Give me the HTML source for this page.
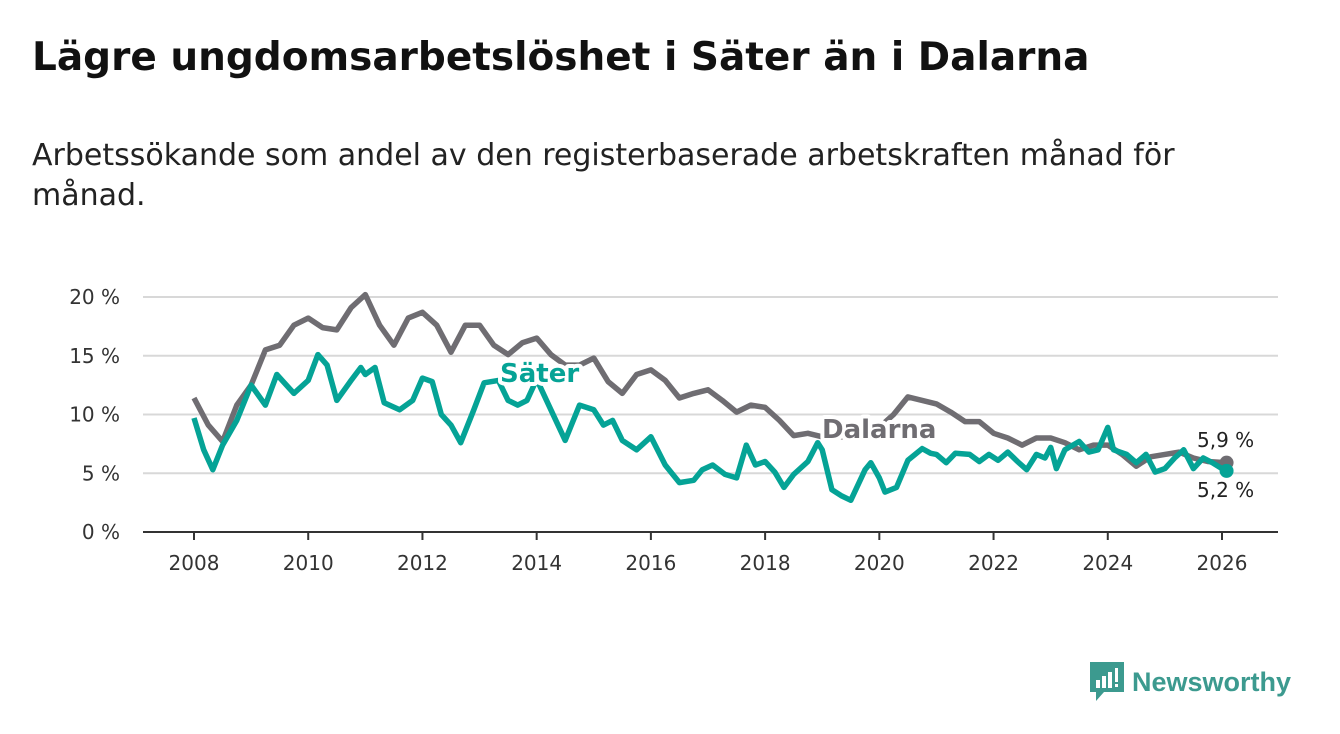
<!DOCTYPE html>
<html><head><meta charset="utf-8">
<style>
body{margin:0;width:1340px;height:734px;background:#fff;font-family:"DejaVu Sans","Liberation Sans",sans-serif;overflow:hidden;position:relative}
h1{position:absolute;left:32px;top:35px;margin:0;font-size:39px;font-weight:bold;color:#111;white-space:nowrap}
.sub{position:absolute;left:32px;top:136px;margin:0;font-size:30px;line-height:40px;color:#222;width:1300px;white-space:nowrap}
svg{position:absolute;left:0;top:0}
</style></head><body>
<h1>Lägre ungdomsarbetslöshet i Säter än i Dalarna</h1>
<p class="sub">Arbetssökande som andel av den registerbaserade arbetskraften månad för<br>månad.</p>
<svg width="1340" height="734" id="chart"></svg>
<script>
const yTicks=[0,5,10,15,20];
const yTickLabels=["0 %","5 %","10 %","15 %","20 %"];
const xTicks=[2008,2010,2012,2014,2016,2018,2020,2022,2024,2026];
const dalT=[2008,2008.25,2008.5,2008.75,2009,2009.25,2009.5,2009.75,2010,2010.25,2010.5,2010.75,2011,2011.25,2011.5,2011.75,2012,2012.25,2012.5,2012.75,2013,2013.25,2013.5,2013.75,2014,2014.25,2014.5,2014.75,2015,2015.25,2015.5,2015.75,2016,2016.25,2016.5,2016.75,2017,2017.25,2017.5,2017.75,2018,2018.25,2018.5,2018.75,2019,2019.5,2020,2020.25,2020.5,2020.75,2021,2021.25,2021.5,2021.75,2022,2022.25,2022.5,2022.75,2023,2023.25,2023.5,2023.75,2024,2024.25,2024.5,2024.75,2025,2025.25,2025.5,2025.75,2026.08];
const dalV=[11.4,9.1,7.7,10.8,12.5,15.5,15.9,17.6,18.2,17.4,17.2,19.1,20.2,17.6,15.9,18.2,18.7,17.6,15.3,17.6,17.6,15.9,15.1,16.1,16.5,15.1,14.2,14.2,14.8,12.8,11.8,13.4,13.8,12.9,11.4,11.8,12.1,11.2,10.2,10.8,10.6,9.5,8.2,8.4,8.1,8.1,8.9,10.0,11.5,11.2,10.9,10.2,9.4,9.4,8.4,8.0,7.4,8.0,8.0,7.6,7.0,7.4,7.4,6.6,5.6,6.4,6.6,6.8,6.3,6.0,5.9];
const satT=[2008,2008.17,2008.33,2008.5,2008.75,2009,2009.25,2009.45,2009.75,2010,2010.17,2010.33,2010.5,2010.75,2010.92,2011,2011.17,2011.33,2011.6,2011.83,2012,2012.17,2012.33,2012.5,2012.67,2012.9,2013.08,2013.33,2013.5,2013.67,2013.83,2014,2014.25,2014.5,2014.75,2015,2015.17,2015.33,2015.5,2015.75,2016,2016.25,2016.5,2016.75,2016.9,2017.08,2017.3,2017.5,2017.67,2017.83,2018,2018.17,2018.33,2018.5,2018.75,2018.92,2019,2019.17,2019.33,2019.5,2019.75,2019.85,2020,2020.1,2020.3,2020.5,2020.75,2020.9,2021,2021.17,2021.33,2021.58,2021.75,2021.92,2022.08,2022.25,2022.42,2022.58,2022.75,2022.9,2023,2023.1,2023.25,2023.5,2023.67,2023.83,2024,2024.1,2024.33,2024.5,2024.67,2024.83,2025,2025.17,2025.33,2025.5,2025.67,2025.83,2026,2026.08];
const satV=[9.7,7.0,5.3,7.4,9.5,12.5,10.8,13.4,11.8,12.9,15.1,14.2,11.2,12.9,14.0,13.4,14.0,11.0,10.4,11.2,13.1,12.8,10.0,9.1,7.6,10.4,12.7,12.9,11.2,10.8,11.2,13.0,10.4,7.8,10.8,10.4,9.1,9.5,7.8,7.0,8.1,5.7,4.2,4.4,5.3,5.7,4.9,4.6,7.4,5.7,6.0,5.1,3.8,4.9,6.0,7.6,7.0,3.6,3.1,2.7,5.3,5.9,4.6,3.4,3.8,6.1,7.1,6.7,6.6,5.9,6.7,6.6,6.0,6.6,6.1,6.8,6.0,5.3,6.6,6.3,7.2,5.4,7.0,7.7,6.8,7.0,8.9,7.0,6.6,5.9,6.6,5.1,5.4,6.3,7.0,5.4,6.3,5.9,5.4,5.2];
const NS="http://www.w3.org/2000/svg";
const svg=document.getElementById('chart');
const X=t=>194+(t-2008)*(1028/18);
const Y=v=>532-v*11.75;
function mk(tag,attrs,parent){const e=document.createElementNS(NS,tag);for(const k in attrs)e.setAttribute(k,attrs[k]);(parent||svg).appendChild(e);return e;}
yTicks.forEach((v,i)=>{
  const g=mk('line',{x1:143,x2:1278,y1:Y(v),y2:Y(v),stroke:v===0?'#333':'#d8d8d8','stroke-width':2});
  
  
  const t=mk('text',{x:120,y:Y(v)+7,'text-anchor':'end','font-size':20,fill:'#333'});
  t.textContent=yTickLabels[i];
  
  
});
xTicks.forEach(yr=>{
  const l=mk('line',{x1:X(yr),x2:X(yr),y1:532,y2:540,stroke:'#333','stroke-width':2});
  
  
  const t=mk('text',{x:X(yr),y:570,'text-anchor':'middle','font-size':20,fill:'#333'});
  t.textContent=yr;
  
  
});
function line(T,V,color,name){
  const d=T.map((t,i)=>(i?'L':'M')+X(t).toFixed(1)+','+Y(V[i]).toFixed(1)).join('');
  const p=mk('path',{d:d,fill:'none',stroke:color,'stroke-width':5.5,'stroke-linejoin':'round'});
  
  
  const c=mk('circle',{cx:X(T[T.length-1]),cy:Y(V[V.length-1]),r:7,fill:color});
  
  
}
line(dalT,dalV,'#6f6d72','dalarna-line');
line(satT,satV,'#05a396','sater-line');
function label(x,y,txt,color,name,bg){
  const t=mk('text',{x:x,y:y,'font-size':bg?26:20,'font-weight':bg?'bold':'normal',fill:color,stroke:bg?'#fff':'none','stroke-width':bg?8:0,'paint-order':'stroke','stroke-linejoin':'round'});
  t.textContent=txt;
  
  
}
label(500,382,'Säter','#05a396','sater-label',true);
label(822,438,'Dalarna','#6f6d72','dalarna-label',true);
label(1197,447,'5,9 %','#222','dalarna-end-value',false);
label(1197,497,'5,2 %','#222','sater-end-value',false);
</script>
<div style="position:absolute;left:1088px;top:660px;display:flex;align-items:center">
<svg width="38" height="44" style="position:static"><path d="M2 2h34v30H16l-8 9v-9H2z" fill="#3c9a8f"/><rect x="8" y="20" width="4" height="8" fill="#fff"/><rect x="14" y="16" width="4" height="12" fill="#fff"/><rect x="20" y="12" width="4" height="16" fill="#fff"/><rect x="27" y="8" width="3" height="14" fill="#fff"/><rect x="27" y="24" width="3" height="3" fill="#fff"/></svg>
<span style="font-size:27px;color:#3c9a8f;margin-left:6px;font-weight:bold;font-family:'Liberation Sans',sans-serif">Newsworthy</span></div>
</body></html>
